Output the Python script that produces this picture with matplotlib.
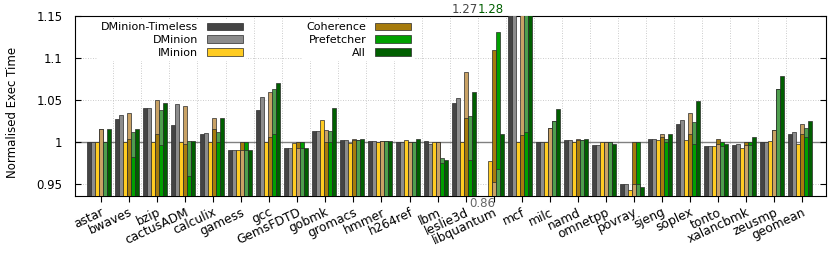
import numpy as np
import matplotlib
matplotlib.use("Agg")
import matplotlib.pyplot as plt
from matplotlib.patches import Patch

# benchmark names
benchmarks = ["astar", "bwaves", "bzip", "cactusADM", "calculix", "gamess", "gcc",
              "GemsFDTD", "gobmk", "gromacs", "hmmer", "h264ref", "lbm", "leslie3d",
              "libquantum", "mcf", "milc", "namd", "omnetpp", "povray", "sjeng",
              "soplex", "tonto", "xalancbmk", "zeusmp", "geomean"]

# normalised exec time
dm_timeless = [1.0, 1.027, 1.040, 1.020, 1.010, 0.990, 1.038, 0.993, 1.013, 1.002, 1.001, 1.0, 1.001,
               1.046, 0.86, 1.27, 1.0, 1.002, 0.996, 0.950, 1.003, 1.021, 0.995, 0.996, 1.0, 1.009]
dminion = [1.0, 1.032, 1.041, 1.045, 1.011, 0.990, 1.053, 0.993, 1.013, 1.002, 1.001, 1.0, 0.998,
           1.052, 0.86, 1.27, 1.0, 1.002, 0.997, 0.950, 1.003, 1.026, 0.995, 0.998, 1.0, 1.012]
iminion = [1.0, 1.0, 1.0, 1.0, 1.0, 0.990, 1.0, 0.999, 1.026, 0.999, 1.0, 1.002, 1.0,
           1.0, 0.977, 1.0, 1.0, 1.0, 1.0, 0.9425, 1.002, 1.002, 0.995, 0.993, 1.001, 0.998]
# coherence / prefetcher: solid value and the lighter overlaid value
coh_solid = [1.016, 1.004, 1.009, 0.998, 1.016, 1.0, 1.006, 1.0, 1.0, 1.002, 1.001, 1.0, 1.0,
             1.028, 1.110, 1.008, 1.017, 1.002, 1.0, 1.0, 1.006, 1.009, 1.003, 1.0, 1.014, 1.009]
coh_light = [1.016, 1.035, 1.050, 1.043, 1.028, 0.990, 1.059, 0.993, 1.014, 1.004, 1.001, 1.0, 1.0,
             1.083, 0.952, 1.22, 1.017, 1.004, 1.0, 0.9496, 1.009, 1.035, 0.998, 0.996, 1.014, 1.021]
pref_solid = [1.0, 0.982, 0.997, 0.959, 1.0, 1.0, 1.0095, 1.0, 1.0, 1.002, 1.001, 1.0, 0.975,
              0.979, 1.131, 1.012, 1.025, 1.002, 1.0, 1.0, 1.0, 0.998, 1.0, 1.0, 1.063, 1.006]
pref_light = [1.0, 1.012, 1.038, 1.001, 1.0115, 0.990, 1.063, 0.993, 1.013, 1.002, 1.001, 1.0, 0.981,
              1.031, 0.9675, 1.25, 1.025, 1.002, 1.0, 0.9496, 1.003, 1.024, 0.995, 0.996, 1.063, 1.017]
all_opt = [1.016, 1.016, 1.046, 1.001, 1.028, 0.990, 1.070, 0.993, 1.040, 1.004, 1.001, 1.003, 0.978,
           1.059, 1.0095, 1.28, 1.039, 1.004, 0.998, 0.946, 1.010, 1.049, 0.998, 1.006, 1.078, 1.025]

c_dmt = "#444444"; c_dm = "#8c8c8c"; c_im = "#ffcc22"
c_coh = "#a67b0c"; c_coh_l = "#c9a265"
c_pref = "#00a000"; c_pref_l = "#4e9e4e"
c_all = "#005f00"
edge = "#2a2a2a"

fig = plt.figure(figsize=(8.3, 2.56), dpi=100)
ax = fig.add_axes([75/830, 60/256, 751/830, 180/256])

x = np.arange(len(benchmarks))
w = 0.1426
off = -0.06

def pos(k):
    return x + off + (k - 2.5)*w

ax.bar(pos(0), dm_timeless, w, color=c_dmt, edgecolor=edge, lw=0.5, zorder=3)
ax.bar(pos(1), dminion, w, color=c_dm, edgecolor=edge, lw=0.5, zorder=3)
ax.bar(pos(2), iminion, w, color=c_im, edgecolor=edge, lw=0.5, zorder=3)

# taller of the two values drawn first, shorter on top
for k, s, l, cs, cl in [(3, coh_solid, coh_light, c_coh, c_coh_l),
                        (4, pref_solid, pref_light, c_pref, c_pref_l)]:
    s = np.array(s); l = np.array(l)
    tall = np.maximum(s, l); short = np.minimum(s, l)
    tall_c = [cl if b > a else cs for a, b in zip(s, l)]
    short_c = [cs if b > a else cl for a, b in zip(s, l)]
    ax.bar(pos(k), tall, w, color=tall_c, edgecolor=edge, lw=0.5, zorder=3)
    ax.bar(pos(k), short, w, color=short_c, edgecolor=edge, lw=0.5, zorder=3)

ax.bar(pos(5), all_opt, w, color=c_all, edgecolor=edge, lw=0.5, zorder=3)

ax.set_xlim(-0.927, 25.85)
ax.set_ylim(0.9357, 1.15)
ax.axhline(1.0, color="#808080", lw=1.0, zorder=1)

# grid
for yy in [0.95, 1.05, 1.1]:
    ax.axhline(yy, color="#bbbbbb", lw=0.6, ls=(0, (1, 2)), zorder=0)
for xx in x[:-1] + 0.44:
    ax.axvline(xx, color="#bbbbbb", lw=0.6, ls=(0, (1, 2)), zorder=0)

ax.set_yticks([0.95, 1.0, 1.05, 1.1, 1.15])
ax.set_yticklabels(["0.95", "1", "1.05", "1.1", "1.15"], fontsize=8.5)
ax.tick_params(axis="y", direction="in", length=4, right=True, pad=9)
ax.set_xticks(x)
ax.set_xticklabels(benchmarks, rotation=25, ha="right", rotation_mode="anchor", fontsize=8.8)
ax.tick_params(axis="x", direction="out", length=4, pad=3)
for sp in ax.spines.values():
    sp.set_linewidth(0.8)

fig.text(13/830, 0.56, "Normalised Exec Time", rotation=90, ha="center", va="center", fontsize=8.5)

# off-scale labels
ax.text(13.44, 1.158, "1.27", color=c_dmt, ha="right", va="center", fontsize=8.5, clip_on=False)
ax.text(13.44, 1.158, "1.28", color=c_all, ha="left", va="center", fontsize=8.5, clip_on=False)
ax.text(13.58, 0.927, "0.86", color="#666666", ha="center", va="center", fontsize=8.5, clip_on=False)

h1 = [Patch(facecolor=c_dmt, edgecolor=edge, lw=0.5, label="DMinion-Timeless"),
      Patch(facecolor=c_dm, edgecolor=edge, lw=0.5, label="DMinion"),
      Patch(facecolor=c_im, edgecolor=edge, lw=0.5, label="IMinion")]
h2 = [Patch(facecolor=c_coh, edgecolor=edge, lw=0.5, label="Coherence"),
      Patch(facecolor=c_pref, edgecolor=edge, lw=0.5, label="Prefetcher"),
      Patch(facecolor=c_all, edgecolor=edge, lw=0.5, label="All")]
leg_kw = dict(markerfirst=False, fontsize=8, handlelength=3.2, handleheight=0.65,
              labelspacing=0.25, handletextpad=0.8, borderpad=0.3, borderaxespad=0,
              fancybox=False, framealpha=1, edgecolor="none", loc="upper right")
leg1 = ax.legend(handles=h1, bbox_to_anchor=((246-75)/751, (196-19)/180), **leg_kw)
ax.add_artist(leg1)
leg2 = ax.legend(handles=h2, bbox_to_anchor=((414-75)/751, (196-19)/180), **leg_kw)
for lg in (leg1, leg2):
    lg.set_zorder(5)

fig.savefig("out.png", dpi=100)
